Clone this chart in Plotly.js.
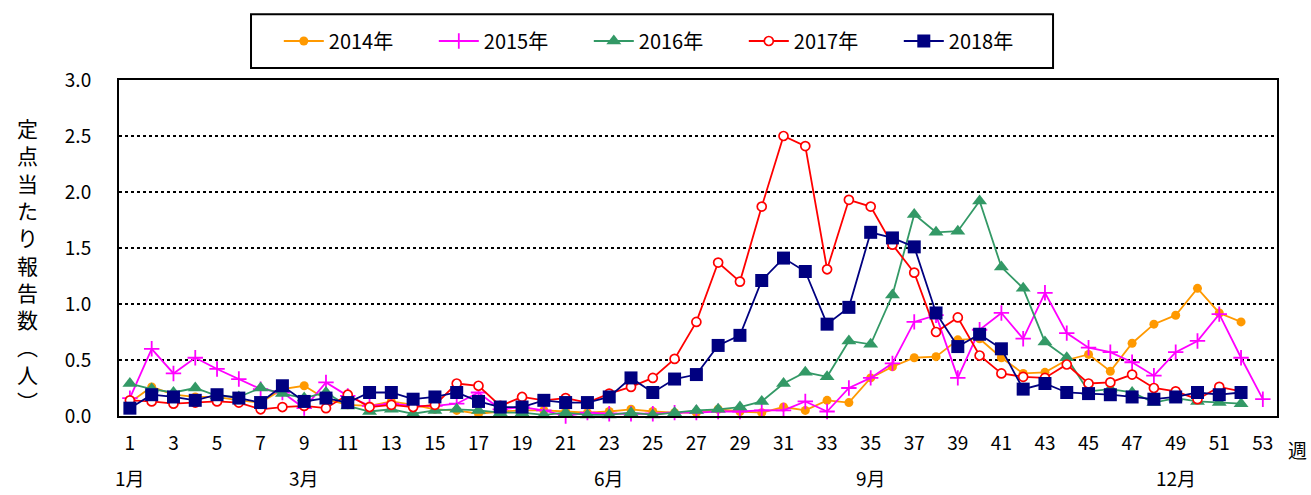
<!DOCTYPE html>
<html>
<head>
<meta charset="utf-8">
<script src="https://cdn.plot.ly/plotly-3.0.1.min.js"></script>
<style>
  html, body { margin: 0; padding: 0; background: #fff; }
  #plot { width: 1311px; height: 495px; }
</style>
</head>
<body>
<div id="plot"></div>
<script>
// weekly values
var weeks = [1, 2, 3, 4, 5, 6, 7, 8, 9, 10, 11, 12, 13, 14, 15, 16, 17, 18, 19, 20,
  21, 22, 23, 24, 25, 26, 27, 28, 29, 30, 31, 32, 33, 34, 35, 36, 37, 38, 39, 40,
  41, 42, 43, 44, 45, 46, 47, 48, 49, 50, 51, 52, 53];

var y2014 = [0.12, 0.26, 0.19, 0.17, 0.17, 0.14, 0.12, 0.24, 0.27, 0.15, 0.10, 0.09, 0.13,
  0.10, 0.06, 0.05, 0.02, 0.04, 0.05, 0.05, 0.04, 0.03, 0.04, 0.06, 0.04, 0.03, 0.03,
  0.06, 0.04, 0.03, 0.08, 0.05, 0.14, 0.12, 0.34, 0.44, 0.52, 0.53, 0.68, 0.69, 0.52,
  0.38, 0.39, 0.50, 0.55, 0.40, 0.65, 0.82, 0.90, 1.14, 0.92, 0.84];

var y2015 = [0.16, 0.60, 0.38, 0.52, 0.42, 0.33, 0.24, 0.21, 0.07, 0.30, 0.18, 0.09, 0.11,
  0.09, 0.09, 0.11, 0.21, 0.06, 0.08, 0.05, 0.00, 0.03, 0.02, 0.02, 0.02, 0.03, 0.03,
  0.04, 0.04, 0.05, 0.05, 0.13, 0.04, 0.25, 0.34, 0.47, 0.84, 0.90, 0.34, 0.77, 0.92,
  0.69, 1.10, 0.74, 0.61, 0.57, 0.48, 0.36, 0.57, 0.67, 0.91, 0.52, 0.15];

var y2016 = [0.29, 0.24, 0.21, 0.25, 0.18, 0.17, 0.25, 0.20, 0.16, 0.21, 0.09, 0.04, 0.06,
  0.02, 0.05, 0.06, 0.05, 0.03, 0.03, 0.01, 0.03, 0.01, 0.01, 0.03, 0.01, 0.03, 0.05,
  0.06, 0.08, 0.13, 0.29, 0.39, 0.35, 0.67, 0.64, 1.08, 1.80, 1.64, 1.65, 1.92, 1.33,
  1.14, 0.66, 0.52, 0.22, 0.24, 0.21, 0.12, 0.16, 0.13, 0.12, 0.11];

var y2017 = [0.14, 0.13, 0.11, 0.12, 0.13, 0.12, 0.06, 0.08, 0.09, 0.07, 0.19, 0.08, 0.10,
  0.08, 0.10, 0.29, 0.27, 0.09, 0.17, 0.14, 0.16, 0.12, 0.20, 0.26, 0.34, 0.51, 0.84,
  1.37, 1.20, 1.87, 2.50, 2.41, 1.31, 1.93, 1.87, 1.53, 1.28, 0.75, 0.88, 0.54, 0.38,
  0.35, 0.34, 0.46, 0.29, 0.30, 0.37, 0.25, 0.22, 0.15, 0.26, 0.22];

var y2018 = [0.07, 0.19, 0.17, 0.14, 0.19, 0.16, 0.12, 0.27, 0.13, 0.16, 0.12, 0.21, 0.21,
  0.15, 0.17, 0.21, 0.13, 0.08, 0.08, 0.14, 0.12, 0.12, 0.17, 0.34, 0.21, 0.33, 0.37,
  0.63, 0.72, 1.21, 1.41, 1.29, 0.82, 0.97, 1.64, 1.59, 1.51, 0.92, 0.62, 0.73, 0.60,
  0.24, 0.29, 0.21, 0.20, 0.19, 0.17, 0.15, 0.17, 0.21, 0.19, 0.21];

var seriesNames = ['2014年', '2015年', '2016年', '2017年', '2018年'];

var tickWeeks = [1, 3, 5, 7, 9, 11, 13, 15, 17, 19, 21, 23, 25, 27, 29, 31, 33, 35, 37,
  39, 41, 43, 45, 47, 49, 51, 53];
var monthLabels = ['1月', '3月', '6月', '9月', '12月'];
var monthWeeks = [1, 9, 23, 35, 49];

var yTitle = '定点当たり報告数︵人︶';

var font = 'Noto Sans CJK JP, sans-serif';

function makeTrace(values, name, color, marker) {
  return {
    x: weeks.slice(0, values.length),
    y: values,
    name: name,
    type: 'scatter',
    mode: 'lines+markers',
    line: { color: color, width: 1.8 },
    marker: marker,
    cliponaxis: false
  };
}

var traces = [
  makeTrace(y2014, seriesNames[0], '#FF9900',
    { symbol: 'circle', size: 9, color: '#FF9900' }),
  makeTrace(y2015, seriesNames[1], '#FF00FF',
    { symbol: 'cross-thin', size: 11, color: '#FF00FF', line: { color: '#FF00FF', width: 1.8 } }),
  makeTrace(y2016, seriesNames[2], '#339966',
    { symbol: 'triangle-up', size: 13, color: '#339966' }),
  makeTrace(y2017, seriesNames[3], '#FF0000',
    { symbol: 'circle', size: 9, color: '#FFFFFF', line: { color: '#FF0000', width: 1.7 } }),
  makeTrace(y2018, seriesNames[4], '#000080',
    { symbol: 'square', size: 13, color: '#000080' })
];

// month labels under the week ticks, plus the unit label 週
var annotations = [];
for (var i = 0; i < monthLabels.length; i++) {
  annotations.push({
    x: monthWeeks[i], xref: 'x', y: -0.138, yref: 'paper',
    yanchor: 'top', text: monthLabels[i], showarrow: false,
    font: { family: font, size: 19, color: '#000' }
  });
}
annotations.push({
  x: 1.0, xref: 'paper', xanchor: 'left', xshift: 9,
  y: 0, yref: 'paper', yanchor: 'top', yshift: -18,
  text: '週', showarrow: false,
  font: { family: font, size: 19, color: '#000' }
});
annotations.push({
  x: -0.079, xref: 'paper', xanchor: 'center',
  y: 0.45, yref: 'paper', yanchor: 'middle',
  text: yTitle.split('').join('<br>'), showarrow: false,
  font: { family: font, size: 21, color: '#000' }
});

var layout = {
  width: 1311,
  height: 495,
  paper_bgcolor: '#fff',
  plot_bgcolor: '#fff',
  font: { family: font, size: 19, color: '#000' },
  margin: { t: 80, l: 119, r: 34, b: 79 },
  showlegend: true,
  legend: {
    orientation: 'h',
    x: 0.138, xanchor: 'left',
    y: 1.116, yanchor: 'middle',
    entrywidth: 100, entrywidthmode: 'pixels',
    itemwidth: 40,
    font: { family: font, size: 20, color: '#000' },
    bgcolor: 'rgba(0,0,0,0)'
  },
  shapes: [{
    type: 'rect', xref: 'paper', yref: 'paper',
    x0: 0.114, x1: 0.8066, y0: 1.036, y1: 1.196,
    line: { color: '#000', width: 2 }, fillcolor: 'rgba(0,0,0,0)'
  }],
  xaxis: {
    range: [0.5, 53.65],
    tickmode: 'array',
    tickvals: tickWeeks,
    ticktext: tickWeeks.map(String),
    showgrid: false,
    zeroline: false,
    showline: true,
    mirror: true,
    linecolor: '#000',
    linewidth: 2,
    ticks: '',
    ticklabelstandoff: 9,
    tickfont: { family: font, size: 19, color: '#000' }
  },
  yaxis: {
    range: [0, 3],
    dtick: 0.5,
    tickformat: '.1f',
    showgrid: true,
    gridcolor: '#000',
    griddash: 'dot',
    gridwidth: 1.5,
    zeroline: false,
    showline: true,
    mirror: true,
    linecolor: '#000',
    linewidth: 2,
    ticks: '',
    ticklabelstandoff: 22,
    tickfont: { family: font, size: 19, color: '#000' }
  },
  annotations: annotations
};

Plotly.newPlot('plot', traces, layout, { displayModeBar: false, staticPlot: true });
</script>
</body>
</html>
